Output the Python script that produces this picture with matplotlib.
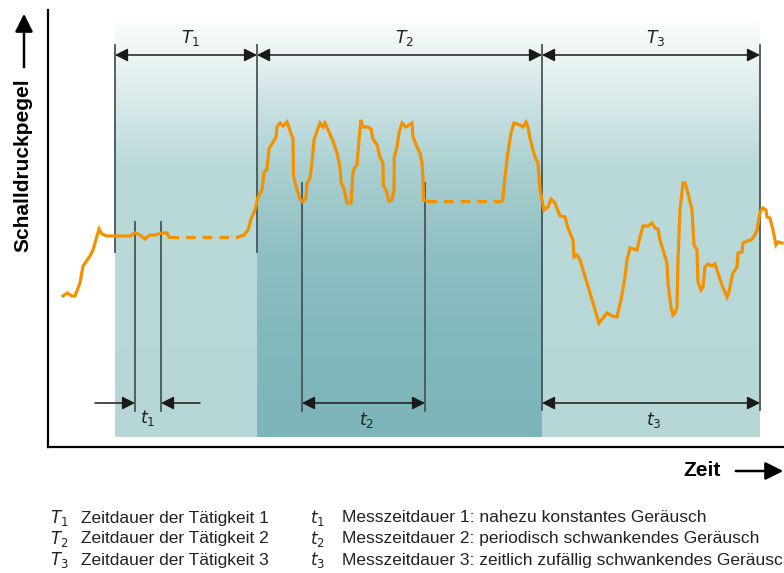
import numpy as np
import matplotlib
matplotlib.use("Agg")
import matplotlib.pyplot as plt
from matplotlib.colors import to_rgb
from matplotlib.patches import FancyArrowPatch

plt.rcParams['mathtext.fontset'] = 'dejavusans'

# ---------------- data (time / level in arbitrary units) ----------------
# solid segment before activity 1 and during t1
seg1_time = [15, 19, 24, 27, 32, 35, 42, 45, 51, 54, 59, 69, 82, 87, 92, 97, 102, 107, 114, 119, 121]
seg1_level = [151, 154, 151, 151, 164, 181, 191, 197, 218, 213, 211, 211, 211, 214, 212, 208, 212, 212, 214, 214, 210]
# dashed (not measured, constant) part of activity 1
dash1_time = [121, 190]
dash1_level = [210, 210]
# activity 2: periodic noise
seg2_time = [190, 196, 200, 203, 207, 210, 214, 216, 219, 221, 228, 229, 232, 235, 239, 245, 245.5, 247,
             252, 255, 258, 259, 262, 264, 266, 269, 272, 275, 277, 281, 285, 289, 292, 293, 296, 299,
             303, 305, 307, 309, 311, 313, 315, 320, 323, 325, 329, 332, 335, 335.3, 338, 341, 344, 346,
             346.3, 349, 351, 354, 358, 364, 365, 369, 372, 374, 375, 375.5, 379]
seg2_level = [210, 212, 217, 228, 237, 250, 257, 274, 278, 298, 310, 320, 324, 321, 325, 308, 272, 264,
              248, 245, 249, 264, 269, 284, 307, 316, 324, 320, 324, 315, 306, 294, 280, 265, 258, 244,
              244, 275, 280, 282, 307, 327, 320, 320, 318, 308, 302, 290, 284, 262, 257, 246, 247, 257,
              290, 300, 314, 324, 320, 324, 310, 300, 294, 284, 267, 247, 246]
dash2_time = [379, 454]
dash2_level = [246, 246]
# end of activity 2 and activity 3: random fluctuating noise
seg3_time = [454.7, 457, 460, 463, 466, 472, 475, 478, 480, 482, 485, 487, 490, 492, 494, 496, 500, 503,
             507, 512, 517, 520, 525, 526, 529, 532, 539, 545, 551, 559, 564, 569, 573, 577, 579, 582,
             589, 592, 595, 600, 604, 607, 610, 612, 615, 619, 620, 623, 625, 627, 629, 630, 632, 635,
             637, 640, 644, 646, 649, 650, 653, 655, 657, 660, 664, 667, 670, 674, 679, 681, 684, 685,
             689, 690, 694, 695, 699, 703, 707, 709, 712, 715, 718, 719, 722, 725, 728, 730, 734]
seg3_level = [247, 270, 295, 314, 324, 322, 320, 325, 320, 309, 297, 290, 284, 257, 247, 237, 240, 248,
              244, 231, 230, 219, 207, 190, 192, 187, 164, 144, 124, 134, 131, 130, 147, 170, 187, 199,
              197, 210, 221, 221, 224, 219, 218, 207, 197, 184, 164, 140, 132, 134, 140, 187, 237, 264,
              264, 254, 237, 202, 197, 165, 157, 160, 180, 183, 181, 183, 174, 162, 150, 155, 170, 174,
              180, 194, 195, 204, 206, 207, 212, 217, 235, 239, 237, 230, 229, 217, 202, 205, 204]

# activity boundaries and measurement windows
T_bounds = [67, 209, 494, 712]
T_labels = [r'$T_{\mathit{1}}$', r'$T_{\mathit{2}}$', r'$T_{\mathit{3}}$']
t_windows = [(87, 113), (254, 377), (494, 712)]
t_labels = [r'$t_{\mathit{1}}$', r'$t_{\mathit{2}}$', r'$t_{\mathit{3}}$']

legend_T = ['Zeitdauer der Tätigkeit 1', 'Zeitdauer der Tätigkeit 2', 'Zeitdauer der Tätigkeit 3']
legend_t = ['Messzeitdauer 1: nahezu konstantes Geräusch',
            'Messzeitdauer 2: periodisch schwankendes Geräusch',
            'Messzeitdauer 3: zeitlich zufällig schwankendes Geräusch']

ORANGE = '#f39200'
LINEC = '#4a5556'

# ---------------- figure ----------------
W, H = 784, 573
fig = plt.figure(figsize=(W / 100, H / 100), dpi=100)
ax = fig.add_axes([48 / W, (H - 447) / H, (W - 48) / W, 437 / H])
ax.set_xlim(0, 736)
ax.set_ylim(0, 437)
for s in ['top', 'right']:
    ax.spines[s].set_visible(False)
for s in ['left', 'bottom']:
    ax.spines[s].set_linewidth(1.6)
    ax.spines[s].set_color('black')
ax.set_xticks([])
ax.set_yticks([])


def grad_image(stops, n=400):
    ys = np.linspace(10, 427, n)
    Ls = [s[0] for s in stops][::-1]
    cols = np.array([to_rgb(s[1]) for s in stops])[::-1]
    img = np.zeros((n, 1, 3))
    for c in range(3):
        img[:, 0, c] = np.interp(ys, Ls, cols[:, c])
    return img


light_stops = [(427, '#ffffff'), (422, '#f8fbfb'), (387, '#ebf4f4'), (327, '#d0e5e5'),
               (282, '#bad9d9'), (10, '#b7d7d7')]
dark_stops = [(427, '#ffffff'), (422, '#f8fbfb'), (387, '#e5f0f0'), (337, '#c8e0e1'),
              (277, '#aacfd1'), (197, '#8fc0c3'), (117, '#82b9bd'), (10, '#7cb5ba')]

for i, stops in enumerate([light_stops, dark_stops, light_stops]):
    ax.imshow(grad_image(stops), extent=[T_bounds[i], T_bounds[i + 1], 10, 427],
              origin='lower', aspect='auto', interpolation='bilinear', zorder=0)
ax.set_xlim(0, 736)
ax.set_ylim(0, 437)

# boundary lines
for i, x in enumerate(T_bounds):
    bottom = 195 if i < 2 else 37
    ax.plot([x, x], [bottom, 402], color=LINEC, lw=1.3, zorder=2)

arrow_kw = dict(arrowstyle='<|-|>,head_length=0.55,head_width=0.28', mutation_scale=14, lw=1.1,
                color='#1a1a1a', shrinkA=0, shrinkB=0)
one = dict(arrowstyle='-|>,head_length=0.55,head_width=0.28', mutation_scale=14, lw=1.1,
           color='#1a1a1a', shrinkA=0, shrinkB=0)
for i in range(3):
    ax.annotate('', xy=(T_bounds[i], 392), xytext=(T_bounds[i + 1], 392),
                arrowprops=arrow_kw, zorder=3)
    ax.text((T_bounds[i] + T_bounds[i + 1]) / 2 + 5, 409, T_labels[i], ha='center', va='center',
            fontsize=12.5, color='#222222')

# measurement windows
for i, (a, b) in enumerate(t_windows):
    top = [225, 264, None][i]
    if top is not None:
        ax.plot([a, a], [36, top], color=LINEC, lw=1.3, zorder=2)
        ax.plot([b, b], [36, top], color=LINEC, lw=1.3, zorder=2)
    if i == 0:
        ax.annotate('', xy=(a, 44), xytext=(a - 40, 44), arrowprops=one, zorder=3)
        ax.annotate('', xy=(b, 44), xytext=(b + 39, 44), arrowprops=one, zorder=3)
        ax.text((a + b) / 2, 29, t_labels[i], ha='center', va='center', fontsize=12.5, color='#222222')
    else:
        ax.annotate('', xy=(a, 44), xytext=(b, 44), arrowprops=arrow_kw, zorder=3)
        ax.text((a + b) / 2 + 3, 27, t_labels[i], ha='center', va='center', fontsize=12.5, color='#222222')

# noise curve
lw = 2.3
ax.plot(seg1_time, seg1_level, color=ORANGE, lw=lw, zorder=4, solid_joinstyle='miter')
ax.plot(dash1_time, dash1_level, color=ORANGE, lw=lw, ls=(0, (3, 2.2)), zorder=4)
ax.plot(seg2_time, seg2_level, color=ORANGE, lw=lw, zorder=4, solid_joinstyle='miter')
ax.plot(dash2_time, dash2_level, color=ORANGE, lw=lw, ls=(0, (3, 2.2)), zorder=4)
ax.plot(seg3_time, seg3_level, color=ORANGE, lw=lw, zorder=4, solid_joinstyle='miter')

# axis labels with arrows (figure pixel coords)
def fx(px):
    return px / W


def fy(py):
    return 1 - py / H


LBL_FONT = ['Liberation Sans Narrow', 'Liberation Sans', 'DejaVu Sans']
fig.text(fx(23), fy(165), 'Schalldruckpegel', rotation=90, ha='center', va='center',
         fontsize=15, fontweight='bold', family=LBL_FONT)
fig.patches.append(FancyArrowPatch((fx(24), fy(70)), (fx(24), fy(11)), transform=fig.transFigure,
                                   arrowstyle='-|>,head_length=0.6,head_width=0.3',
                                   mutation_scale=18, lw=1.8, color='black'))
fig.text(fx(702), fy(471), 'Zeit', ha='center', va='center', fontsize=15, fontweight='bold',
         family=LBL_FONT)
fig.patches.append(FancyArrowPatch((fx(733), fy(471)), (fx(786), fy(471)), transform=fig.transFigure,
                                   arrowstyle='-|>,head_length=0.6,head_width=0.3',
                                   mutation_scale=18, lw=1.8, color='black'))

# legend text
rows = [518, 539, 560]
for i in range(3):
    fig.text(fx(50), fy(rows[i]), T_labels[i], ha='left', va='center', fontsize=12, color='#222222')
    fig.text(fx(81), fy(rows[i]), legend_T[i], ha='left', va='center', fontsize=12.5,
             family=LBL_FONT, color='#222222')
    fig.text(fx(310), fy(rows[i]), t_labels[i], ha='left', va='center', fontsize=12, color='#222222')
    fig.text(fx(342), fy(rows[i]), legend_t[i], ha='left', va='center', fontsize=12.5,
             family=LBL_FONT, color='#222222')

fig.savefig('out.png', dpi=100)
